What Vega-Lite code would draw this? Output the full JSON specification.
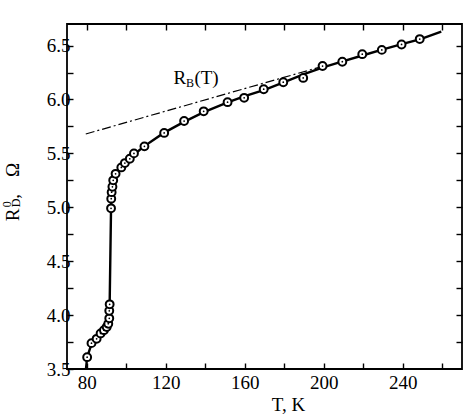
{
  "$schema": "https://vega.github.io/schema/vega-lite/v6.json",
  "width": 395,
  "height": 345,
  "autosize": {"type": "none"},
  "padding": {"left": 67, "top": 24, "right": 4, "bottom": 49},
  "background": "white",
  "config": {
    "font": "'Liberation Serif', 'Times New Roman', Times, serif",
    "view": {"stroke": "black", "strokeWidth": 1.8},
    "axis": {
      "domain": false,
      "grid": false,
      "tickColor": "black",
      "tickWidth": 1.4,
      "tickSize": -6,
      "labelColor": "black",
      "labelFont": "'Liberation Serif', 'Times New Roman', Times, serif",
      "labelFontSize": 19,
      "titleFont": "'Liberation Serif', 'Times New Roman', Times, serif",
      "titleColor": "black",
      "titleFontWeight": "normal"
    }
  },
  "datasets": {
    "markers": [
      {"T": 80.2, "R": 3.61}, {"T": 82.4, "R": 3.74}, {"T": 85.0, "R": 3.78}, {"T": 87.0, "R": 3.83},
      {"T": 88.7, "R": 3.86}, {"T": 90.1, "R": 3.89}, {"T": 90.9, "R": 3.92}, {"T": 91.4, "R": 3.97},
      {"T": 91.4, "R": 4.04}, {"T": 91.6, "R": 4.10}, {"T": 92.3, "R": 4.99}, {"T": 92.4, "R": 5.08},
      {"T": 92.6, "R": 5.14}, {"T": 93.0, "R": 5.19}, {"T": 93.4, "R": 5.25}, {"T": 94.6, "R": 5.31},
      {"T": 97.5, "R": 5.37}, {"T": 99.3, "R": 5.41}, {"T": 101.8, "R": 5.45}, {"T": 103.9, "R": 5.50},
      {"T": 109.2, "R": 5.565}, {"T": 119.2, "R": 5.69}, {"T": 129.3, "R": 5.80}, {"T": 139.2, "R": 5.89},
      {"T": 151.3, "R": 5.975}, {"T": 159.7, "R": 6.015}, {"T": 169.6, "R": 6.095}, {"T": 179.5, "R": 6.16},
      {"T": 189.6, "R": 6.20}, {"T": 199.4, "R": 6.31}, {"T": 209.4, "R": 6.35}, {"T": 219.5, "R": 6.42},
      {"T": 229.4, "R": 6.46}, {"T": 239.4, "R": 6.51}, {"T": 248.6, "R": 6.56}
    ],
    "curve": [
      {"i": 1, "T": 79.6, "R": 3.5}, {"i": 2, "T": 80.2, "R": 3.61}, {"i": 3, "T": 82.4, "R": 3.73},
      {"i": 4, "T": 85.0, "R": 3.79}, {"i": 5, "T": 88.0, "R": 3.85}, {"i": 6, "T": 90.5, "R": 3.91},
      {"i": 7, "T": 91.4, "R": 4.0}, {"i": 8, "T": 91.6, "R": 4.10}, {"i": 9, "T": 92.3, "R": 4.99},
      {"i": 10, "T": 92.6, "R": 5.14}, {"i": 11, "T": 93.4, "R": 5.25}, {"i": 12, "T": 95.0, "R": 5.32},
      {"i": 13, "T": 98.0, "R": 5.38}, {"i": 14, "T": 102.0, "R": 5.45}, {"i": 15, "T": 104.0, "R": 5.49},
      {"i": 16, "T": 109.0, "R": 5.565}, {"i": 17, "T": 119.0, "R": 5.69}, {"i": 18, "T": 129.0, "R": 5.79},
      {"i": 19, "T": 139.0, "R": 5.88}, {"i": 20, "T": 151.0, "R": 5.97}, {"i": 21, "T": 160.0, "R": 6.03},
      {"i": 22, "T": 170.0, "R": 6.09}, {"i": 23, "T": 180.0, "R": 6.16}, {"i": 24, "T": 190.0, "R": 6.235},
      {"i": 25, "T": 200.0, "R": 6.30}, {"i": 26, "T": 210.0, "R": 6.355}, {"i": 27, "T": 220.0, "R": 6.41},
      {"i": 28, "T": 230.0, "R": 6.465}, {"i": 29, "T": 240.0, "R": 6.515}, {"i": 30, "T": 249.0, "R": 6.56},
      {"i": 31, "T": 259.5, "R": 6.63}
    ],
    "rb": [
      {"T": 79.5, "R": 5.68}, {"T": 198.0, "R": 6.30}
    ],
    "labels": [
      {"T": 123.9, "R": 6.148, "t": "R", "s": 19},
      {"T": 130.3, "R": 6.12, "t": "B", "s": 12},
      {"T": 134.5, "R": 6.148, "t": "(T)", "s": 19}
    ],
    "ytitle": [
      {"T": 45.7, "R": 4.87, "t": "R", "s": 19},
      {"T": 41.7, "R": 5.0, "t": "0", "s": 12},
      {"T": 46.2, "R": 5.0, "t": "D", "s": 12},
      {"T": 45.7, "R": 5.08, "t": ",", "s": 19},
      {"T": 45.7, "R": 5.28, "t": "Ω", "s": 19}
    ]
  },
  "layer": [
    {
      "data": {"name": "curve"},
      "mark": {"type": "line", "color": "black", "strokeWidth": 2.4},
      "encoding": {
        "x": {"field": "T", "type": "quantitative",
              "scale": {"domain": [70, 270], "nice": false, "zero": false},
              "axis": {"orient": "bottom", "values": [80, 100, 120, 140, 160, 180, 200, 220, 240, 260],
                       "labelExpr": "datum.value % 40 == 0 ? datum.label : ''",
                       "labelPadding": 10, "title": "T, K", "titleFontSize": 19,
                       "titleX": 221, "titleY": 41, "titleBaseline": "alphabetic"}},
        "y": {"field": "R", "type": "quantitative",
              "scale": {"domain": [3.5, 6.7], "nice": false, "zero": false},
              "axis": {"orient": "left", "values": [3.5, 3.75, 4.0, 4.25, 4.5, 4.75, 5.0, 5.25, 5.5, 5.75, 6.0, 6.25, 6.5],
                       "labelExpr": "datum.value * 2 % 1 == 0 ? format(datum.value, '.1f') : ''",
                       "labelPadding": 3, "title": null}},
        "order": {"field": "i", "type": "quantitative"}
      }
    },
    {
      "data": {"name": "markers"},
      "mark": {"type": "point", "shape": "circle", "filled": false, "fill": "white", "fillOpacity": 1, "stroke": "black", "strokeWidth": 2, "size": 62, "opacity": 1},
      "encoding": {
        "x": {"field": "T", "type": "quantitative", "axis": null},
        "y": {"field": "R", "type": "quantitative", "axis": null}
      }
    },
    {
      "data": {"name": "markers"},
      "mark": {"type": "point", "shape": "circle", "filled": true, "color": "black", "size": 3, "opacity": 1},
      "encoding": {
        "x": {"field": "T", "type": "quantitative", "axis": null},
        "y": {"field": "R", "type": "quantitative", "axis": null}
      }
    },
    {
      "data": {"name": "labels"},
      "mark": {"type": "text", "align": "left", "baseline": "alphabetic", "color": "black", "font": "'Liberation Serif', 'Times New Roman', Times, serif"},
      "encoding": {
        "x": {"field": "T", "type": "quantitative", "axis": null},
        "y": {"field": "R", "type": "quantitative", "axis": null},
        "text": {"field": "t"},
        "size": {"field": "s", "type": "quantitative", "scale": null}
      }
    },
    {
      "data": {"name": "ytitle"},
      "mark": {"type": "text", "align": "left", "baseline": "alphabetic", "angle": 270, "color": "black", "font": "'Liberation Serif', 'Times New Roman', Times, serif"},
      "encoding": {
        "x": {"field": "T", "type": "quantitative", "axis": null},
        "y": {"field": "R", "type": "quantitative", "axis": null},
        "text": {"field": "t"},
        "size": {"field": "s", "type": "quantitative", "scale": null}
      }
    },
    {
      "data": {"name": "rb"},
      "mark": {"type": "line", "color": "black", "strokeWidth": 1.2, "strokeDash": [9, 3, 2, 3]},
      "encoding": {
        "x": {"field": "T", "type": "quantitative",
              "axis": {"orient": "top", "values": [80, 100, 120, 140, 160, 180, 200, 220, 240, 260], "labels": false, "title": null}},
        "y": {"field": "R", "type": "quantitative",
              "axis": {"orient": "right", "values": [3.75, 4.0, 4.25, 4.5, 4.75, 5.0, 5.25, 5.5, 5.75, 6.0, 6.25, 6.5], "labels": false, "title": null}}
      }
    }
  ],
  "resolve": {"axis": {"x": "independent", "y": "independent"}}
}
